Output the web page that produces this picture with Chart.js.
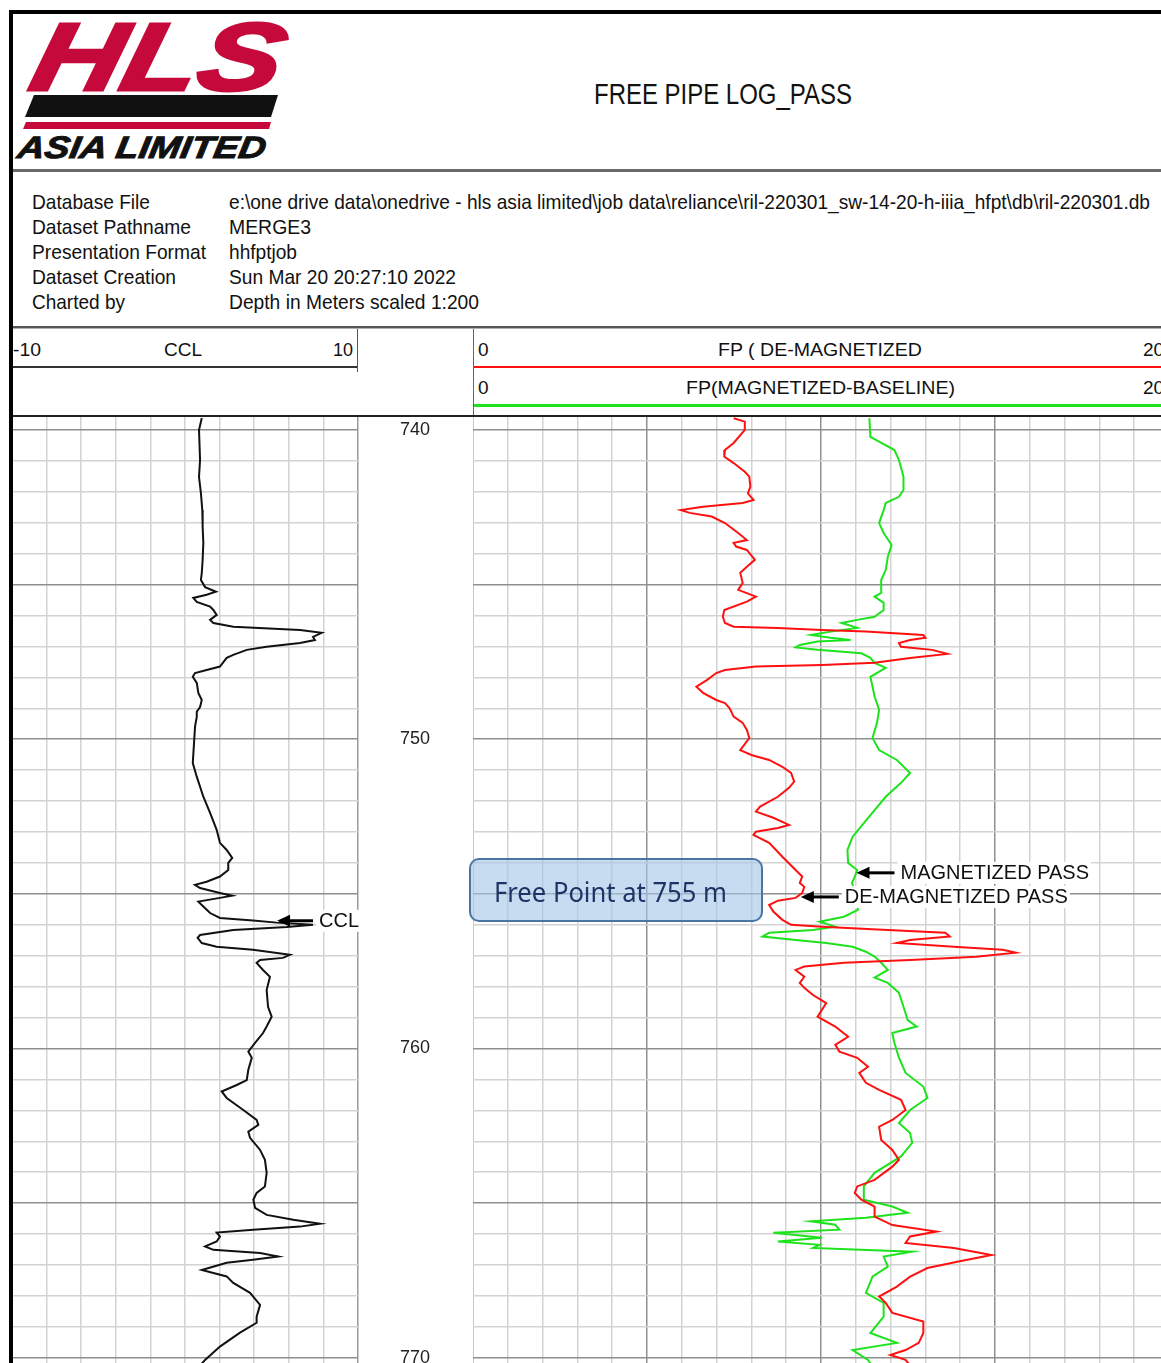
<!DOCTYPE html>
<html>
<head>
<meta charset="utf-8">
<title>FREE PIPE LOG_PASS</title>
<script src="https://cdn.jsdelivr.net/npm/chart.js@4.4.1/dist/chart.umd.min.js"></script>
<style>
  html, body { margin: 0; padding: 0; background: #fff; }
  #sheet {
    position: relative; width: 1161px; height: 1363px; overflow: hidden;
    background: #fff; font-family: "Liberation Sans", Arial, sans-serif; color: #111;
  }
  .txt { position: absolute; white-space: nowrap; transform-origin: 0 50%; }
  .rule { position: absolute; }
  canvas { position: absolute; top: 417px; }
  #ccl { left: 12px; }
  #fp { left: 473px; }
  #freePoint {
    position: absolute; left: 469px; width: 290px; height: 60px;
    border: 2px solid #4a76a6; border-radius: 10px;
    background: rgba(166, 199, 233, 0.62); z-index: 5;
  }
  .bar { position: absolute; }
</style>
</head>
<body>
<div id="sheet">
  <canvas id="ccl" width="461" height="946"></canvas>
  <canvas id="fp" width="688" height="946"></canvas>
  <div id="freePoint"></div>
</div>
<script>
// depth range shown in the tracks (m)
const DEPTH_TOP = 739.58;
const DEPTH_BOTTOM = 770.17;
const TRACK_TOP = 417;

const depthLabels = [740, 750, 760, 770];
const freePoint = 755;

// casing collar locator
const cclDepth = [739.61, 740.00, 740.97, 741.52, 742.04, 742.59, 743.14, 743.65, 744.20, 744.62, 744.85, 745.08, 745.23, 745.33, 745.43, 745.56, 745.71, 745.82, 745.98, 746.14, 746.24, 746.36, 746.47, 746.56, 746.69, 746.79, 746.89, 747.01, 747.11, 747.27, 747.37, 747.65, 747.76, 747.86, 747.98, 748.18, 748.50, 748.73, 748.96, 749.11, 749.28, 749.59, 749.96, 750.77, 751.21, 751.86, 752.38, 752.93, 753.35, 753.58, 753.84, 754.00, 754.23, 754.44, 754.61, 754.71, 754.81, 754.97, 755.06, 755.13, 755.25, 755.41, 755.62, 755.78, 755.86, 755.93, 756.00, 756.07, 756.17, 756.33, 756.42, 756.59, 756.71, 756.81, 756.97, 757.07, 757.14, 757.23, 757.46, 757.68, 758.11, 758.65, 758.97, 759.29, 759.50, 759.82, 760.10, 760.30, 760.69, 761.02, 761.18, 761.39, 761.60, 761.99, 762.31, 762.47, 762.69, 762.89, 763.28, 763.60, 764.02, 764.46, 764.67, 764.89, 765.15, 765.38, 765.54, 765.67, 765.76, 765.86, 765.95, 766.08, 766.24, 766.40, 766.51, 766.61, 766.73, 766.83, 766.93, 767.16, 767.26, 767.37, 767.58, 767.90, 768.29, 768.67, 768.87, 769.19, 769.64, 770.07, 770.30];
const cclValue = [0.97, 0.81, 0.87, 0.81, 0.92, 1.00, 1.02, 1.06, 1.02, 0.97, 0.92, 1.16, 1.79, 1.25, 0.48, 0.68, 1.45, 1.64, 1.83, 1.45, 1.64, 2.79, 6.65, 7.90, 7.40, 7.51, 6.65, 4.72, 3.57, 2.79, 2.41, 2.02, 1.25, 0.58, 0.45, 0.68, 0.77, 0.97, 0.87, 0.68, 0.68, 0.58, 0.54, 0.45, 0.68, 1.06, 1.45, 1.83, 2.02, 2.41, 2.73, 2.50, 2.50, 2.02, 1.25, 0.58, 0.87, 2.02, 2.73, 2.02, 0.77, 1.06, 1.45, 2.02, 3.93, 5.30, 7.40, 5.88, 2.79, 0.87, 0.73, 0.97, 1.83, 3.93, 6.07, 5.66, 4.34, 4.14, 4.51, 4.91, 4.72, 4.80, 5.01, 4.72, 4.51, 4.05, 3.66, 3.86, 3.66, 3.57, 2.99, 2.12, 2.41, 3.37, 4.14, 4.24, 3.66, 3.76, 4.34, 4.62, 4.72, 4.62, 4.14, 3.95, 4.05, 4.72, 6.26, 7.80, 6.65, 3.95, 1.83, 2.02, 1.83, 1.16, 1.64, 4.34, 5.39, 3.93, 2.41, 0.97, 1.64, 2.41, 2.79, 3.76, 4.34, 4.14, 4.14, 3.18, 2.02, 1.16, 0.80];

// free point, de-magnetized pass
const demagDepth = [739.62, 739.73, 740.00, 740.42, 740.65, 740.86, 741.07, 741.35, 741.51, 741.83, 742.05, 742.26, 742.36, 742.48, 742.59, 742.68, 742.80, 743.01, 743.33, 743.56, 743.65, 743.77, 743.88, 744.20, 744.42, 744.62, 744.95, 745.17, 745.39, 745.55, 745.82, 746.04, 746.24, 746.36, 746.40, 746.47, 746.52, 746.63, 746.72, 746.79, 746.89, 747.01, 747.11, 747.24, 747.37, 747.53, 747.60, 747.65, 747.76, 747.86, 748.08, 748.30, 748.50, 748.73, 748.83, 748.99, 749.27, 749.47, 749.70, 749.96, 750.35, 750.51, 750.67, 750.89, 751.09, 751.37, 751.57, 751.86, 752.18, 752.34, 752.54, 752.77, 752.87, 752.99, 753.09, 753.35, 753.80, 754.23, 754.44, 754.65, 754.77, 754.97, 755.13, 755.22, 755.36, 755.57, 755.84, 756.00, 756.06, 756.17, 756.26, 756.38, 756.49, 756.59, 756.71, 756.81, 756.90, 757.03, 757.14, 757.23, 757.35, 757.46, 757.68, 757.88, 758.04, 758.27, 758.53, 758.75, 758.97, 759.29, 759.62, 759.88, 760.10, 760.30, 760.59, 760.79, 761.11, 761.34, 761.66, 761.99, 762.31, 762.53, 762.96, 763.28, 763.60, 763.82, 764.25, 764.46, 764.67, 764.89, 765.11, 765.44, 765.71, 765.92, 766.08, 766.29, 766.45, 766.68, 766.89, 767.10, 767.38, 767.70, 768.02, 768.23, 768.55, 768.83, 769.20, 769.52, 769.75, 769.91, 770.07, 770.30];
const demagValue = [7.49, 7.81, 7.81, 7.49, 7.24, 7.22, 7.49, 7.81, 7.94, 7.97, 7.90, 8.06, 7.75, 6.61, 5.97, 6.23, 6.86, 7.24, 7.62, 7.87, 7.49, 7.56, 7.87, 8.10, 7.87, 7.68, 7.75, 7.62, 8.13, 7.87, 7.22, 7.18, 7.24, 7.49, 8.76, 10.03, 11.29, 12.94, 13.00, 12.56, 12.24, 12.30, 13.19, 13.63, 12.56, 11.54, 10.03, 8.13, 7.24, 6.99, 6.73, 6.42, 6.61, 6.99, 7.24, 7.37, 7.49, 7.75, 7.87, 7.94, 7.68, 8.00, 8.51, 8.89, 9.14, 9.23, 9.08, 8.76, 8.25, 8.13, 8.63, 9.08, 8.76, 8.13, 8.06, 8.51, 8.89, 9.27, 9.46, 9.39, 9.52, 9.46, 9.27, 8.76, 8.51, 8.63, 8.89, 9.14, 10.03, 11.92, 13.57, 13.70, 12.56, 12.18, 13.82, 15.22, 15.59, 14.46, 12.56, 10.66, 9.52, 9.27, 9.52, 9.39, 9.52, 9.77, 10.15, 10.03, 9.90, 10.41, 10.78, 10.41, 10.53, 11.04, 11.35, 11.10, 11.29, 11.67, 12.30, 12.43, 12.05, 11.67, 11.73, 12.05, 12.24, 12.05, 11.54, 11.04, 10.97, 11.16, 11.54, 11.54, 12.05, 13.32, 12.56, 12.43, 13.82, 14.90, 13.95, 13.06, 12.56, 12.18, 11.67, 11.86, 12.05, 12.94, 12.94, 12.81, 12.43, 11.99, 12.43, 12.60];

// free point, magnetized baseline pass
const magDepth = [739.62, 740.22, 740.38, 740.65, 740.97, 741.51, 741.94, 742.16, 742.36, 742.59, 743.01, 743.33, 743.72, 744.10, 744.53, 744.85, 745.27, 745.39, 745.59, 745.82, 746.04, 746.14, 746.24, 746.40, 746.52, 746.63, 746.72, 746.79, 746.84, 746.95, 747.03, 747.11, 747.22, 747.37, 747.53, 747.69, 747.98, 748.30, 748.62, 749.05, 749.47, 749.96, 750.35, 750.67, 751.09, 751.41, 751.86, 752.29, 752.71, 753.15, 753.58, 754.00, 754.23, 754.44, 754.65, 755.09, 755.52, 755.74, 755.90, 756.06, 756.17, 756.26, 756.38, 756.49, 756.59, 756.71, 756.87, 757.03, 757.23, 757.46, 757.71, 757.88, 758.20, 758.65, 759.08, 759.29, 759.50, 759.82, 760.30, 760.79, 761.23, 761.60, 761.99, 762.41, 762.73, 763.05, 763.49, 764.02, 764.46, 764.89, 765.11, 765.31, 765.47, 765.59, 765.70, 765.86, 765.96, 766.12, 766.24, 766.35, 766.45, 766.57, 766.73, 767.05, 767.38, 767.90, 768.23, 768.67, 769.20, 769.52, 769.75, 770.07, 770.30];
const magValue = [11.39, 11.42, 11.67, 12.11, 12.24, 12.37, 12.37, 12.24, 11.86, 11.80, 11.67, 11.80, 12.03, 11.92, 11.86, 11.73, 11.73, 11.54, 11.80, 11.80, 11.54, 11.04, 10.59, 11.04, 10.28, 9.71, 10.28, 10.85, 9.90, 9.39, 9.27, 9.90, 11.16, 11.42, 11.54, 11.86, 11.42, 11.48, 11.54, 11.67, 11.61, 11.48, 11.67, 12.18, 12.56, 12.30, 11.86, 11.54, 11.23, 10.91, 10.76, 10.78, 11.04, 10.97, 10.89, 11.04, 11.06, 10.66, 9.96, 10.41, 9.77, 8.51, 8.32, 9.27, 10.15, 10.91, 11.29, 11.54, 11.73, 11.92, 11.54, 11.92, 12.24, 12.37, 12.49, 12.75, 12.05, 12.11, 12.24, 12.43, 12.94, 13.06, 12.56, 12.24, 12.56, 12.62, 12.30, 11.54, 11.23, 11.23, 12.05, 12.49, 11.29, 9.71, 10.41, 10.53, 8.63, 10.03, 8.76, 9.96, 9.77, 12.62, 11.80, 11.92, 11.48, 11.29, 11.80, 11.80, 11.42, 12.18, 10.91, 11.35, 11.50];

const RED = '#ff1010';
const GREEN = '#1de31d';
const LOGO_RED = '#c6093b';

const sheet = document.getElementById('sheet');

// ---------- header ----------
function addText(t, x, cy, size, opt) {
  opt = opt || {};
  const el = document.createElement('span');
  el.className = 'txt';
  el.textContent = t;
  el.style.fontSize = size + 'px';
  el.style.lineHeight = size + 'px';
  if (opt.font) el.style.fontFamily = opt.font;
  if (opt.weight) el.style.fontWeight = opt.weight;
  if (opt.italic) el.style.fontStyle = 'italic';
  if (opt.color) el.style.color = opt.color;
  if (opt.stroke) el.style.webkitTextStroke = opt.stroke;
  if (opt.z) el.style.zIndex = opt.z;
  sheet.appendChild(el);
  const natural = el.getBoundingClientRect().width;
  const k = opt.w ? opt.w / natural : 1;
  const w = natural * k;
  let left = x;
  if (opt.align === 'center') left = x - w / 2;
  else if (opt.align === 'right') left = x - w;
  el.style.left = left + 'px';
  el.style.top = (cy - size * 0.49) + 'px';
  el.style.transform = 'scaleX(' + k + ')' + (opt.skew ? ' skewX(' + opt.skew + 'deg)' : '');
  return el;
}

function addRule(x, y, w, h, color, z) {
  const el = document.createElement('div');
  el.className = 'rule';
  el.style.cssText += 'left:' + x + 'px;top:' + y + 'px;width:' + w + 'px;height:' + h + 'px;background:' + color + ';z-index:' + (z || 3);
  sheet.appendChild(el);
}

function addBar(points, color) {
  const el = document.createElement('div');
  el.className = 'bar';
  el.style.cssText += 'left:0;top:0;width:400px;height:200px;background:' + color + ';clip-path:polygon(' +
    points.map(p => p[0] + 'px ' + p[1] + 'px').join(',') + ')';
  sheet.appendChild(el);
}

// logo
addText('HLS', 34, 56, 96, { weight: 900, italic: true, color: LOGO_RED, w: 250, skew: -10, stroke: '3px ' + LOGO_RED });
addBar([[34, 95], [278, 95], [271, 117], [25, 117]], '#111');
addBar([[26, 122], [271, 122], [269, 129], [23, 129]], LOGO_RED);
addText('ASIA LIMITED', 18, 147, 31, { weight: 900, italic: true, color: '#111', w: 248, skew: -8, stroke: '1px #111' });

addText('FREE PIPE LOG_PASS', 723, 94, 29, { align: 'center', w: 258 });

const infoLabels = ['Database File', 'Dataset Pathname', 'Presentation Format', 'Dataset Creation', 'Charted by'];
const infoLabelW = [118, 159, 174, 144, 93];
const infoValues = ['e:\\one drive data\\onedrive - hls asia limited\\job data\\reliance\\ril-220301_sw-14-20-h-iiia_hfpt\\db\\ril-220301.db',
  'MERGE3', 'hhfptjob', 'Sun Mar 20 20:27:10 2022', 'Depth in Meters scaled 1:200'];
const infoValueW = [921, 82, 68, 227, 250];
infoLabels.forEach((t, i) => {
  addText(t, 32, 201 + i * 25, 21, { w: infoLabelW[i] });
  addText(infoValues[i], 229, 201 + i * 25, 21, { w: infoValueW[i] });
});

// track headers
addText('-10', 13, 349, 19, { w: 28 });
addText('CCL', 183, 349, 19, { align: 'center', w: 38 });
addText('10', 353, 349, 19, { align: 'right', w: 20 });
addText('0', 478, 349, 19);
addText('FP ( DE-MAGNETIZED', 820, 349, 19, { align: 'center', w: 204 });
addText('20', 1143, 349, 19);
addText('0', 478, 387, 19);
addText('FP(MAGNETIZED-BASELINE)', 820, 387, 19, { align: 'center', w: 269 });
addText('20', 1143, 387, 19);

// frame and header rules
addRule(9, 10, 1152, 4, '#000', 6);
addRule(9, 10, 4, 1353, '#000', 6);
addRule(13, 169, 1148, 3, '#6a6a6a');
addRule(13, 326, 1148, 2, '#555');
addRule(13, 328, 1148, 1, '#b0b0b0');
addRule(357, 329, 1, 43, '#555');
addRule(13, 366, 344, 2, '#333');
addRule(473, 329, 1, 86, '#666');
addRule(474, 366, 687, 2, RED);
addRule(474, 404, 687, 3, GREEN);
addRule(13, 415, 1148, 2, '#222');

// ---------- tracks ----------
function points(depths, values) {
  return depths.map((d, i) => ({ x: values[i], y: d }));
}

const depthGrid = [];
for (let d = Math.ceil(DEPTH_TOP); d <= DEPTH_BOTTOM; d++) depthGrid.push(d);

function depthAxis(extra) {
  return Object.assign({
    type: 'linear',
    reverse: true,
    min: DEPTH_TOP,
    max: DEPTH_BOTTOM,
    afterBuildTicks: s => { s.ticks = depthGrid.map(v => ({ value: v })); },
    grid: {
      color: c => (c.tick && c.tick.value % 5 === 0) ? '#8f8f8f' : '#d3d3d3',
      lineWidth: 1.5,
      drawTicks: false
    },
    border: { display: false }
  }, extra);
}

// little arrows with labels pointing at a curve
const arrowNotes = {
  id: 'arrowNotes',
  afterDatasetsDraw(chart, args, opts) {
    const notes = opts.notes || [];
    const ctx = chart.ctx;
    const xs = chart.scales.x, ys = chart.scales.y;
    ctx.save();
    ctx.font = '20px "Liberation Sans", Arial, sans-serif';
    ctx.textBaseline = 'middle';
    notes.forEach(n => {
      const x = xs.getPixelForValue(n.value);
      const y = ys.getPixelForValue(n.depth);
      const tail = x + n.shaft;
      const tw = ctx.measureText(n.label).width;
      ctx.fillStyle = '#fff';
      ctx.fillRect(tail + 3, y - 11, tw + 5, 22);
      ctx.fillStyle = '#111';
      ctx.fillText(n.label, tail + 6, y + 1);
      ctx.strokeStyle = '#000';
      ctx.lineWidth = 3;
      ctx.beginPath();
      ctx.moveTo(x + 8, y);
      ctx.lineTo(tail, y);
      ctx.stroke();
      ctx.fillStyle = '#000';
      ctx.beginPath();
      ctx.moveTo(x, y);
      ctx.lineTo(x + 13, y - 6);
      ctx.lineTo(x + 13, y + 6);
      ctx.closePath();
      ctx.fill();
    });
    ctx.restore();
  }
};

Chart.defaults.font.family = '"Liberation Sans", Arial, sans-serif';

const cclChart = new Chart(document.getElementById('ccl'), {
  type: 'scatter',
  data: {
    datasets: [{
      label: 'CCL',
      data: points(cclDepth, cclValue),
      showLine: true,
      borderColor: '#111',
      borderWidth: 2,
      pointRadius: 0
    }]
  },
  options: {
    responsive: false,
    animation: false,
    events: [],
    layout: { padding: 0 },
    plugins: {
      legend: { display: false },
      tooltip: { enabled: false },
      arrowNotes: { notes: [{ depth: 755.87, value: 5.32, shaft: 36, label: 'CCL' }] }
    },
    scales: {
      x: {
        type: 'linear', min: -10, max: 10,
        ticks: { display: false, stepSize: 2 },
        grid: {
          color: c => (c.tick && Math.abs(c.tick.value) === 10) ? '#9a9a9a' : '#d3d3d3',
          lineWidth: 1.5,
          drawTicks: false
        },
        border: { display: false },
        afterFit: s => { s.height = 0; }
      },
      y: depthAxis({
        position: 'right',
        ticks: {
          callback: v => depthLabels.includes(v) ? String(v) : '',
          crossAlign: 'center',
          padding: 42,
          color: '#222',
          font: { size: 18 }
        },
        afterFit: s => { s.width = 115; s.paddingTop = 0; s.paddingBottom = 0; }
      })
    }
  },
  plugins: [arrowNotes]
});

const fpMax = 688 / 34.8;
const fpGrid = [];
for (let v = 0; v <= fpMax; v++) fpGrid.push(v);

const fpChart = new Chart(document.getElementById('fp'), {
  type: 'scatter',
  data: {
    datasets: [{
      label: 'FP ( DE-MAGNETIZED',
      data: points(demagDepth, demagValue),
      showLine: true,
      borderColor: RED,
      borderWidth: 2,
      pointRadius: 0
    }, {
      label: 'FP(MAGNETIZED-BASELINE)',
      data: points(magDepth, magValue),
      showLine: true,
      borderColor: GREEN,
      borderWidth: 2,
      pointRadius: 0
    }]
  },
  options: {
    responsive: false,
    animation: false,
    events: [],
    layout: { padding: 0 },
    plugins: {
      legend: { display: false },
      tooltip: { enabled: false },
      arrowNotes: {
        notes: [
          { depth: 754.32, value: 11.02, shaft: 38, label: 'MAGNETIZED PASS' },
          { depth: 755.10, value: 9.42, shaft: 38, label: 'DE-MAGNETIZED PASS' }
        ]
      }
    },
    scales: {
      x: {
        type: 'linear', min: 0, max: fpMax,
        afterBuildTicks: s => { s.ticks = fpGrid.map(v => ({ value: v })); },
        ticks: { display: false },
        grid: {
          color: c => (c.tick && c.tick.value % 5 === 0) ? '#8f8f8f' : '#d3d3d3',
          lineWidth: 1.5,
          drawTicks: false
        },
        border: { display: false },
        afterFit: s => { s.height = 0; }
      },
      y: depthAxis({
        position: 'left',
        ticks: { display: false },
        afterFit: s => { s.width = 0; }
      })
    }
  },
  plugins: [arrowNotes]
});

// free point call-out, placed on the depth scale
const box = document.getElementById('freePoint');
const fpY = fpChart.scales.y.getPixelForValue(freePoint) + TRACK_TOP;
box.style.top = (fpY - 36) + 'px';
addText('Free Point at ' + freePoint + ' m', 494, fpY - 3, 27,
  { font: '"Noto Sans", "Open Sans", sans-serif', color: '#1d3566', w: 233, z: 6 });
</script>
</body>
</html>
